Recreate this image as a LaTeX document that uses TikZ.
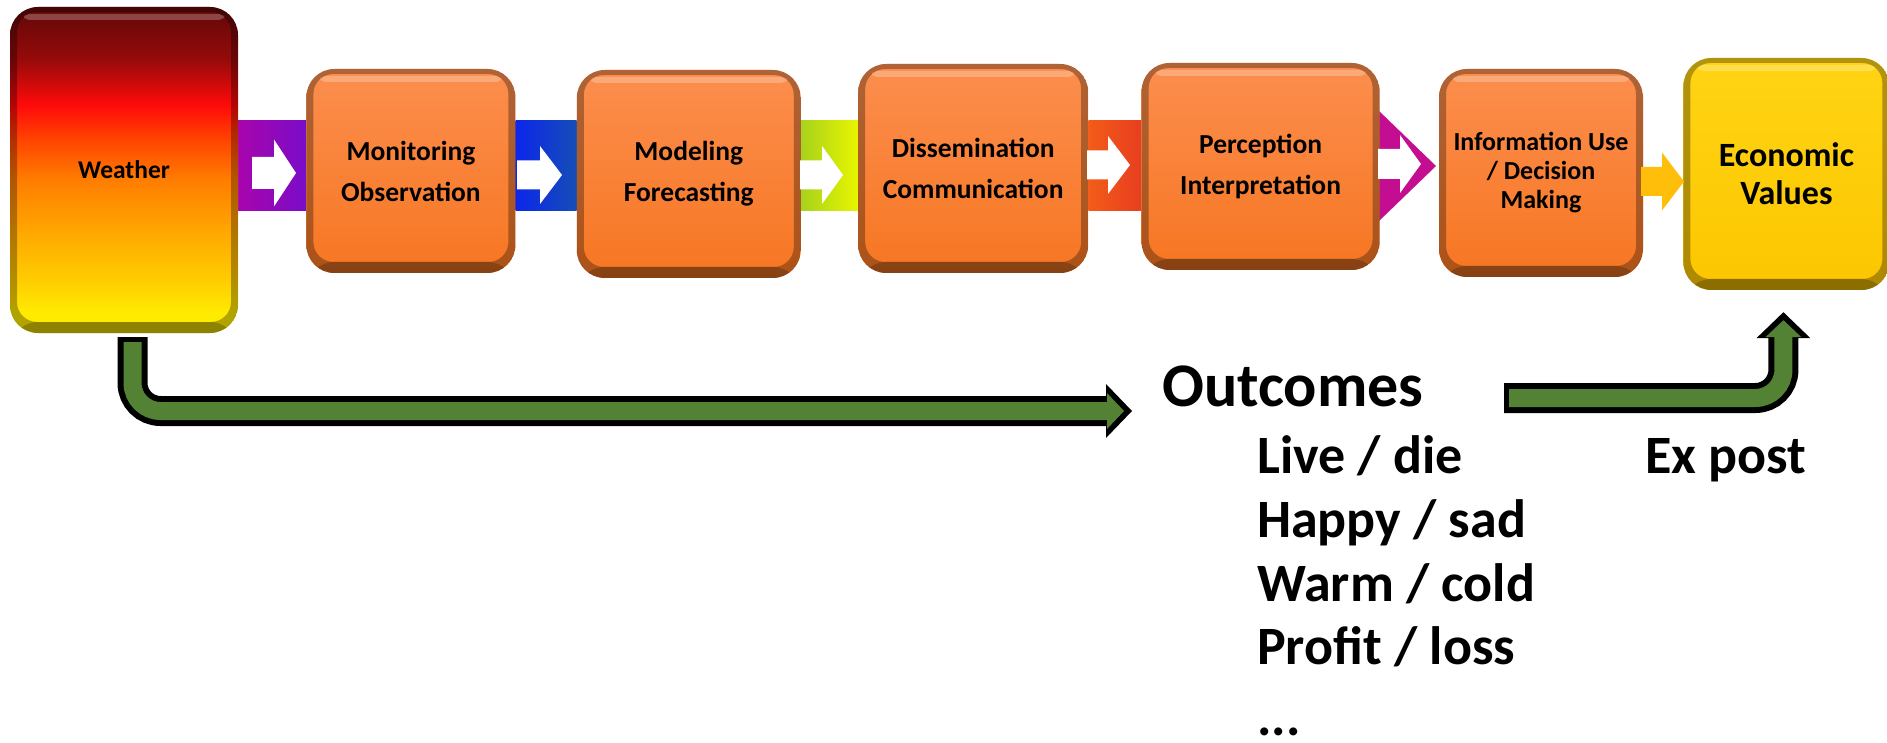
\documentclass[tikz,border=0pt]{standalone}
\usepackage{fontspec}
\setmainfont{Carlito}
\usepackage{tikz}
\usetikzlibrary{positioning, arrows.meta, backgrounds}

\definecolor{orangeTop}{RGB}{252,142,78}
\definecolor{orangeBot}{RGB}{246,118,34}
\definecolor{econTop}{RGB}{255,212,20}
\definecolor{econBot}{RGB}{252,198,0}
\definecolor{bandPurpleL}{RGB}{168,5,172}
\definecolor{bandPurpleR}{RGB}{122,12,200}
\definecolor{bandBlueL}{RGB}{12,38,235}
\definecolor{bandBlueR}{RGB}{22,78,182}
\definecolor{bandGreenL}{RGB}{168,210,28}
\definecolor{bandGreenR}{RGB}{232,245,0}
\definecolor{bandRedL}{RGB}{242,92,24}
\definecolor{bandRedR}{RGB}{232,62,32}
\definecolor{bandMagenta}{RGB}{196,14,146}
\definecolor{arrowYellow}{RGB}{255,190,10}
\definecolor{outGreen}{RGB}{84,130,53}
\definecolor{wDark}{RGB}{95,8,8}
\definecolor{wMaroon}{RGB}{150,10,10}
\definecolor{wRed}{RGB}{255,10,10}
\definecolor{wRedOr}{RGB}{255,70,0}
\definecolor{wOrange}{RGB}{255,125,0}
\definecolor{wAmber}{RGB}{255,165,0}
\definecolor{wGold}{RGB}{255,205,0}
\definecolor{wYellow}{RGB}{255,235,0}

\pgfdeclareverticalshading{weatherShade}{100bp}{color(0bp)=(wYellow); color(28bp)=(wYellow); color(33bp)=(wGold); color(41bp)=(wAmber); color(48.5bp)=(wOrange); color(54.5bp)=(wRedOr); color(60bp)=(wRed); color(67bp)=(wMaroon); color(75bp)=(wDark); color(100bp)=(wDark)}

% white block arrow inside a band: colour, x start, head base, tip, centre y, shaft half, head half
\newcommand{\bandArrow}[7]{%
  \fill[#1] (#2,#5-#6) -- (#3,#5-#6) -- (#3,#5-#7) -- (#4,#5) -- (#3,#5+#7) -- (#3,#5+#6) -- (#2,#5+#6) -- cycle;}

\tikzstyle{bevel} = [path picture={
    \fill[black, opacity=0.3, even odd rule] (path picture bounding box.south west) rectangle (path picture bounding box.north east) [rounded corners=20pt] ([shift={(7pt,11pt)}]path picture bounding box.south west) rectangle ([shift={(-7pt,-5pt)}]path picture bounding box.north east);
    \fill[black, opacity=0.2] (path picture bounding box.south west) rectangle ([yshift=11pt]path picture bounding box.south east);
    \fill[white, opacity=0.25, rounded corners=5pt] ([shift={(14pt,-7pt)}]path picture bounding box.north west) rectangle ([shift={(-14pt,-13pt)}]path picture bounding box.north east);
  }]
\tikzstyle{boxBase} = [rectangle, rounded corners=28pt, align=center, inner sep=0pt, bevel, font=\bfseries\fontsize{27.5}{41}\selectfont]
\tikzstyle{stageNode} = [boxBase, top color=orangeTop, bottom color=orangeBot]
\tikzstyle{weatherNode} = [boxBase, shading=weatherShade, font=\bfseries\fontsize{25.5}{30}\selectfont]
\tikzstyle{econNode} = [boxBase, top color=econTop, bottom color=econBot, font=\bfseries\fontsize{34}{38}\selectfont]
\tikzstyle{fatArrowK} = [line width=30pt, draw=black, rounded corners=28pt, -{Triangle[width=54pt,length=26pt,line width=0pt]}]
\tikzstyle{fatArrowG} = [line width=18pt, draw=outGreen, rounded corners=28pt, -{Triangle[width=36pt,length=17pt,line width=0pt]}, shorten >=8pt, shorten <=5pt]
\tikzstyle{outcomeText} = [anchor=base west, inner sep=0pt, font=\bfseries\fontsize{54}{64}\selectfont]

\begin{document}
\begin{tikzpicture}[x=1pt, y=-1pt]
    \useasboundingbox (0,0) rectangle (1887,743);

    \node (weather) [weatherNode, minimum width=228pt, minimum height=326pt] at (124,170) {Weather};
    \node (monitor) [stageNode, right=68pt of weather, yshift=-1pt, minimum width=209pt, minimum height=204pt] {Monitoring\\Observation};
    \node (model) [stageNode, right=61pt of monitor, yshift=-3pt, minimum width=224pt, minimum height=208pt] {Modeling\\Forecasting};
    \node (dissem) [stageNode, right=57pt of model, yshift=5.5pt, minimum width=230pt, minimum height=209pt] {Dissemination\\Communication};
    \node (percep) [stageNode, right=53pt of dissem, yshift=2pt, minimum width=238pt, minimum height=207pt] {Perception\\Interpretation};
    \node (infouse) [stageNode, right=59pt of percep, yshift=-6.5pt, minimum width=204pt, minimum height=208pt, font=\bfseries\fontsize{26}{29}\selectfont] {Information Use\\/ Decision\\Making};
    \node (econ) [econNode, right=40pt of infouse, yshift=-1pt, minimum width=206pt, minimum height=232pt] {Economic\\Values};

    \coordinate (bandTop) at (0,121);
    \coordinate (bandBot) at (0,211);
    \begin{pgfonlayer}{background}
    \shade [left color=bandPurpleL, right color=bandPurpleR] (weather.east |- bandTop) rectangle (monitor.west |- bandBot);
    \shade [left color=bandBlueL, right color=bandBlueR] (monitor.east |- bandTop) rectangle (model.west |- bandBot);
    \shade [left color=bandGreenL, right color=bandGreenR] (model.east |- bandTop) rectangle (dissem.west |- bandBot);
    \shade [left color=bandRedL, right color=bandRedR] (dissem.east |- bandTop) rectangle (percep.west |- bandBot);
    \fill [bandMagenta] (1378,110) -- (1436,166) -- (1378,222) -- cycle;
    \end{pgfonlayer}

    \bandArrow{white}{252}{274}{296}{173}{16}{33.5}
    \bandArrow{white}{517}{540}{562}{175}{14.5}{29}
    \bandArrow{white}{800}{822}{843}{175}{14.5}{29}
    \bandArrow{white}{1087}{1108}{1130}{165}{14.5}{29}
    \bandArrow{white}{1378}{1400}{1421}{164}{15}{29}
    \bandArrow{arrowYellow}{1641}{1662}{1684}{181.5}{14.5}{29}

    \node (outcomes) [anchor=base west, inner sep=0pt, font=\bfseries\fontsize{62}{74}\selectfont] at (1162,406) {Outcomes};
    \node (live) [outcomeText] at (1257,473) {Live / die};
    \node (happy) [outcomeText] at ([yshift=-64pt]live.base west) {Happy / sad};
    \node (warm) [outcomeText] at ([yshift=-64pt]happy.base west) {Warm / cold};
    \node (profit) [outcomeText] at ([yshift=-63pt]warm.base west) {Profit / loss};
    \node (more) [outcomeText] at ([yshift=-71pt]profit.base west) {...};
    \node (expost) [outcomeText] at (1645,473) {Ex post};

    \coordinate (weatherOut) at ([shift={(8.5pt,-4pt)}]weather.south);
    \coordinate (outcomesIn) at (1132,411);
    \coordinate (expostOut) at (1504,398);
    \coordinate (econIn) at ([shift={(-3pt,-22pt)}]econ.south);

    \draw [fatArrowK] (weatherOut) |- (outcomesIn);
    \draw [fatArrowG] (weatherOut) |- (outcomesIn);
    \draw [fatArrowK] (expostOut) -| (econIn);
    \draw [fatArrowG] (expostOut) -| (econIn);

\end{tikzpicture}
\end{document}
